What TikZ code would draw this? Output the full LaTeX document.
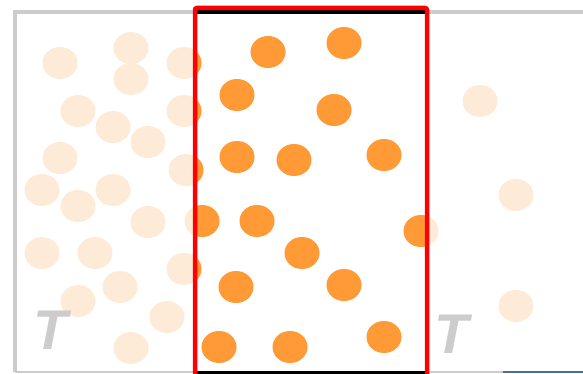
\documentclass[tikz,border=0pt]{standalone}
\usepackage{fontspec}
\setsansfont{Liberation Sans}
\usetikzlibrary{positioning}
\definecolor{corange}{HTML}{FF9A36}
\definecolor{cpale}{HTML}{FDEBD8}
\definecolor{cgray}{HTML}{CCCCCC}
\definecolor{cblue}{HTML}{4E6C98}
\tikzset{
  pale/.style={fill=cpale},
  hot/.style={fill=corange},
  wall/.style={draw=cgray, line width=4pt},
  tlabel/.style={text=cgray, font=\fontsize{56}{56}\selectfont\sffamily\bfseries\itshape, inner sep=0pt},
}
\begin{document}
\begin{tikzpicture}[x=1pt, y=-1pt]
      \useasboundingbox (0,0) rectangle (583,374);
      \def\dotlist{60/63, 131/48, 131/79, 184/63, 78/111, 113/127, 184/111, 148/142, 60/158, 186/170,
        42/190, 113/190, 78/206, 148/222, 42/253, 95/253, 184/269, 120/287, 78/301, 167/317, 131/348,
        268/52, 344/43, 237/95, 334/110, 237/157, 294/160, 384/155, 202/221, 257/221, 421/231,
        302/253, 236/287, 344/285, 219/347, 290/347, 384/337, 480/101, 516/195, 516/306}
      \foreach \x/\y in \dotlist
        \fill[pale] (\x,\y) ellipse [x radius=17.5, y radius=16];
      \begin{scope}
        \clip (195,0) rectangle (427,374);
        \foreach \x/\y in \dotlist
          \fill[hot] (\x,\y) ellipse [x radius=17.5, y radius=16];
      \end{scope}
      \node[tlabel] (tl) at (51,330) {T};
      \node[tlabel] (tr) at (452,334) {T};
      \draw[wall] (583,12) -- (15,12) -- (15,372);
      \draw[draw=cgray, line width=1.5pt] (15,372) -- (196,372);
      \draw[draw=cgray, line width=1.5pt] (427,372) -- (503,372);
      \draw[draw=cblue, line width=1.5pt] (503,372) -- (583,372);
      \draw[line width=3.5pt] (195,12) -- (427,12);
      \draw[line width=3pt] (195,372) -- (427,372);
      \draw[red, line width=4.5pt, rounded corners=2pt] (195,380) -- (195,8) -- (427,8) -- (427,380);
    \end{tikzpicture}
\end{document}
